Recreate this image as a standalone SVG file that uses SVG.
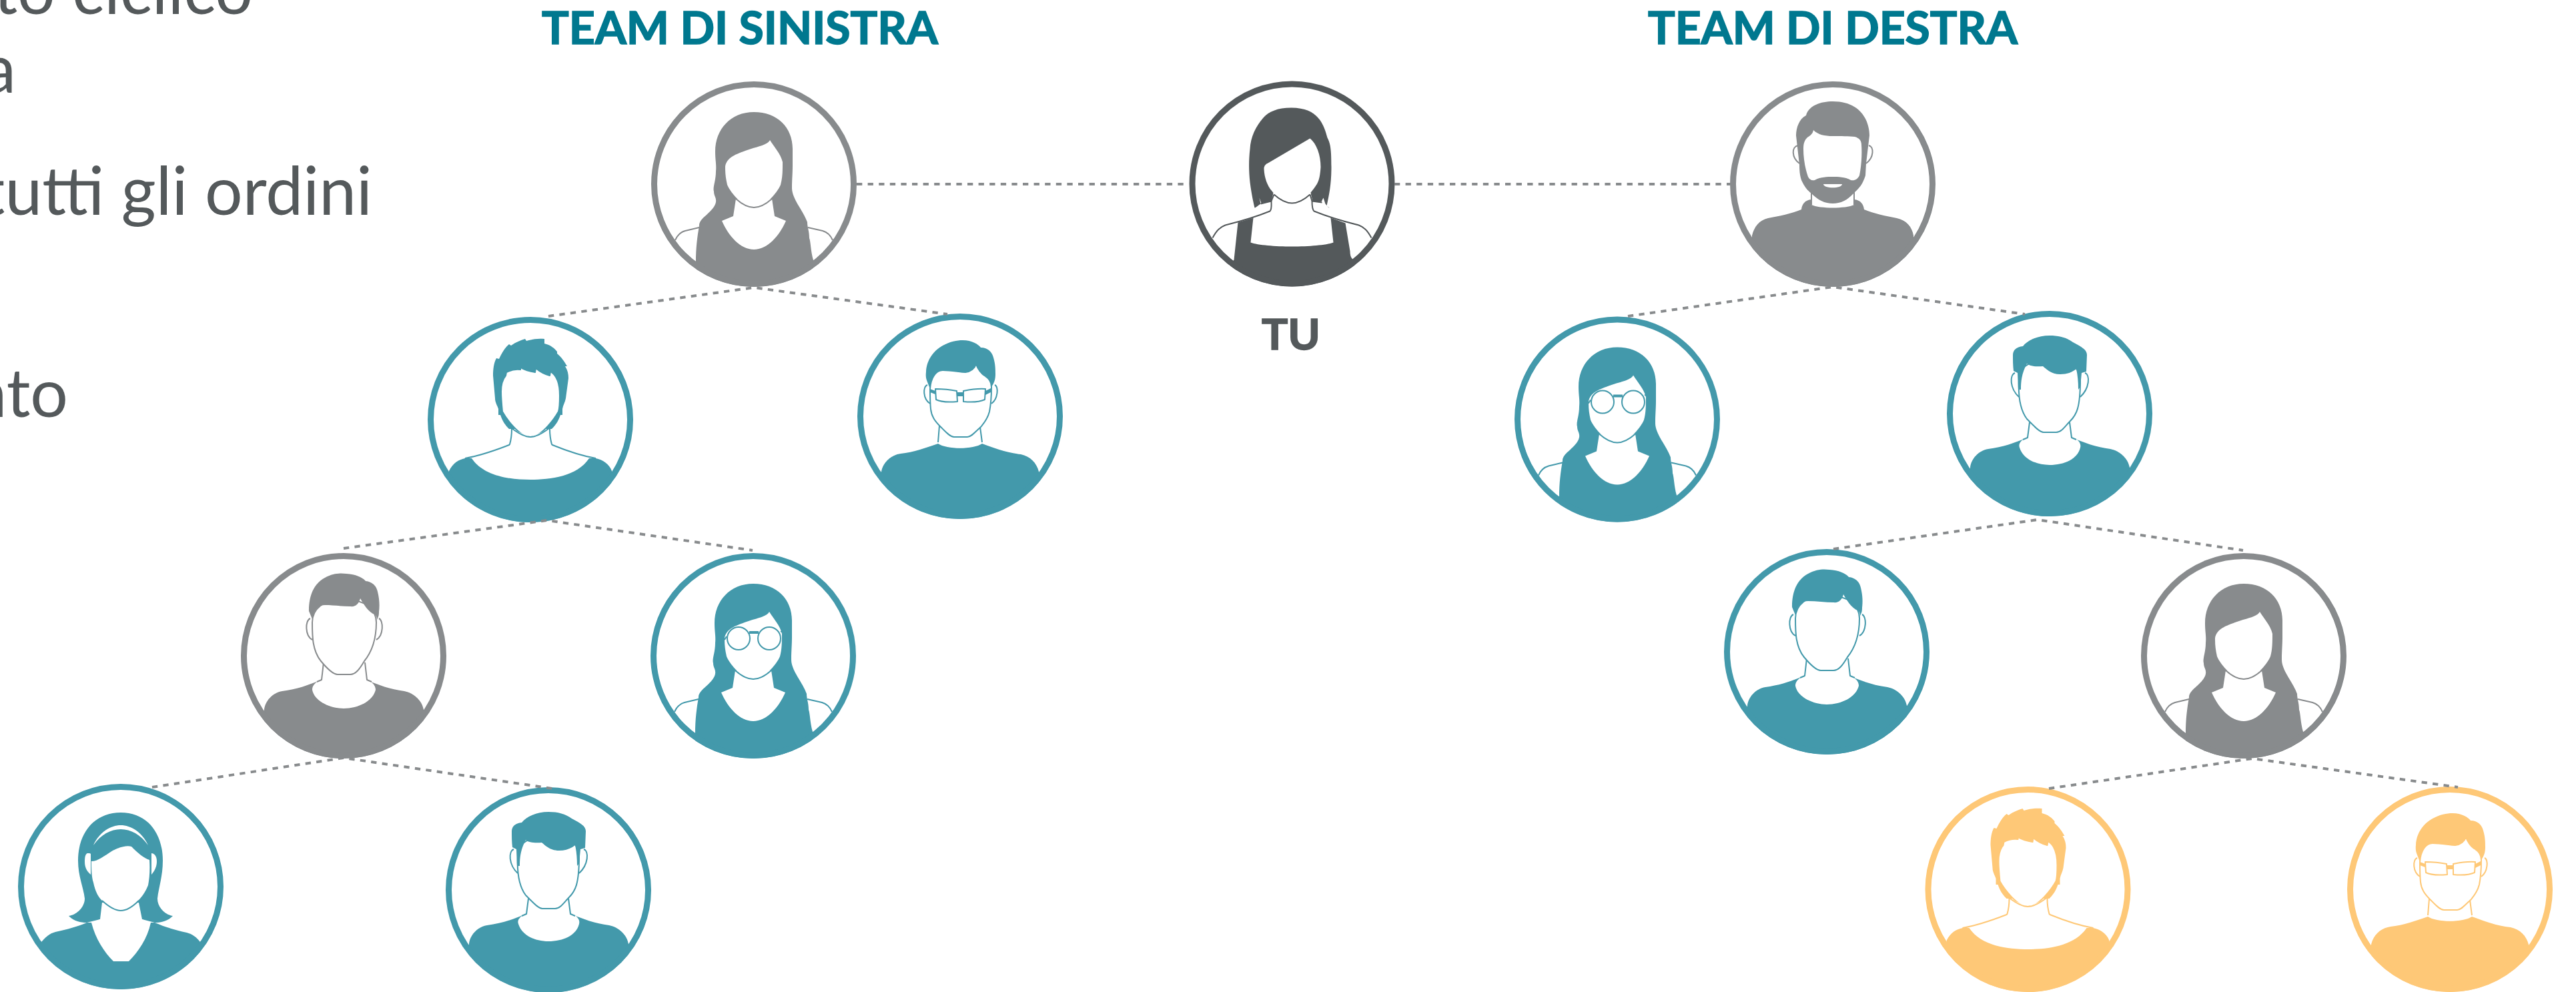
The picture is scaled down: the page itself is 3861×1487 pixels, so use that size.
<svg xmlns="http://www.w3.org/2000/svg" xmlns:xlink="http://www.w3.org/1999/xlink" width="3861" height="1487" viewBox="0 0 3861 1487">
<style>
.bg{fill:#fff}
.ring{fill:none;stroke:currentColor;stroke-width:9}
.f{fill:currentColor}
.w{fill:#fff}
.l{fill:none;stroke:currentColor;stroke-width:2;stroke-linejoin:round}
.wl{fill:#fff;stroke:currentColor;stroke-width:2;stroke-linejoin:round}
.teal{color:#4399ab}.gray{color:#888b8d}.dark{color:#54595b}.orange{color:#fec877}
.dash{fill:none;stroke:#888b8d;stroke-width:4;stroke-dasharray:8.3 8.3}
.h{font-family:Lato,"Liberation Sans",sans-serif;font-weight:700;font-size:66px;fill:#00788f;stroke:#00788f;stroke-width:1.6}
.t{font-family:Lato,"Liberation Sans",sans-serif;font-weight:700;font-size:64px;fill:#54595b;stroke:#54595b;stroke-width:1.6}
.b{font-family:Lato,"Liberation Sans",sans-serif;font-weight:400;font-size:100px;fill:#54595b}
</style>
<defs>
<clipPath id="c"><circle r="154"/></clipPath>

<g id="woman-long">
<g clip-path="url(#c)">
<path class="f" d="M0,-108C-35,-108 -58,-82 -58,-49C-58,-35 -56,-30 -57,-19C-57,-5 -62,5 -60,11C-60,18 -56,20 -57,27C-60,42 -82,50 -82,62C-85,80 -87,95 -87,116L-87,170L89,170L89,114C85,100 85,85 83,81C83,70 80,65 80,57C74,40 57,22 57,6C57,-8 58,-15 58,-29L58,-53C58,-85 35,-108 0,-108Z"/>
</g>
<path class="w" d="M-27,22L-31,48L-48,55C-38,78 -20,98 0,98C20,98 38,78 48,55L31,48L27,22Z"/>
<path class="w" d="M-43,-24C-43,-38 -30,-44 -13,-50C3,-56 20,-58 24,-66C30,-56 40,-46 43,-33C43,-20 43,-10 40,1C34,15 15,35 0,35C-15,35 -34,15 -40,1C-42,-8 -43,-15 -43,-24Z"/>
<path class="l" d="M-27,22C-18,30 -8,35 0,35C8,35 18,30 27,22"/>
<path class="l" d="M-82,65L-103,70C-110,72 -115,77 -118,84"/>
<path class="l" d="M81,65L103,70C110,72 115,77 118,84"/>
</g>

<g id="round-glasses">
<circle class="wl" cx="-22" cy="-26" r="17"/>
<circle class="wl" cx="24" cy="-26" r="17"/>
<path class="f" d="M-6,-37H8V-33H-6Z"/>
<path class="l" d="M-40,-29L-43,-24M41,-36L44,-37"/>
</g>

<g id="man-messy">
<g clip-path="url(#c)">
<path class="f" d="M-51,-92L-47,-91C-43,-100 -38,-108 -32,-113L-29,-111C-22,-116 -15,-119 -8,-121L-6,-118C5,-121 12,-122 21,-121L21,-114C30,-112 36,-107 40,-102L40,-99C47,-93 51,-87 55,-80L52,-80C56,-74 57,-68 57,-62L53,-32C52,-26 49,-22 48,-16V-7H45C42,2 38,8 32,14L-32,14C-38,8 -42,2 -45,-7H-48V-16C-50,-22 -53,-26 -53,-32L-56,-66C-56,-75 -55,-85 -51,-92Z"/>
</g>
<path class="wl" d="M-36,-71C-30,-74 -22,-76 -15,-75V-78C-8,-74 0,-72 7,-71L8,-77C14,-72 21,-68 29,-66L30,-72C40,-66 44,-52 44,-36C44,-25 44,-18 42,-12C37,-3 17,26 0,26C-17,26 -37,-3 -42,-12C-43,-22 -44,-32 -44,-42C-44,-52 -42,-60 -37,-66Z"/>
<path class="w" d="M-28,14L-31,37L-90,60L90,60L32,37L29,14L0,26Z"/>
<path class="l" d="M-28,14C-28,22 -29,30 -31,37L-32,38C-55,47 -75,54 -98,58"/>
<path class="l" d="M29,14C29,22 30,30 32,37L33,38C55,47 75,54 98,58"/>
<path class="l" d="M-28,13C-16,22 -8,26 0,26C8,26 16,22 28,13"/>
<g clip-path="url(#c)">
<path class="f" d="M-122,77C-116,65 -108,60 -98,58L-88,58C-70,85 -30,90 0,90C30,90 70,85 88,58L98,58C108,60 118,66 122,77L122,170H-122Z"/>
</g>
</g>

<g id="man-glasses">
<g clip-path="url(#c)">
<path class="f" d="M-118,83C-115,68 -103,58 -89,56C-70,54 -50,47 -33,41C-20,50 20,50 33,41C50,47 70,55 91,57C105,60 115,70 118,83L118,170H-118Z"/>
</g>
<path class="wl" d="M-49,-47C-56,-45 -56,-26 -45,-19"/>
<path class="wl" d="M52,-47C58,-45 57,-26 47,-19"/>
<path class="w" d="M-31,10L-33,39C-20,50 20,50 33,39L30,10Z"/>
<path class="l" d="M-31,14L-33,39M30,16L33,39"/>
<path class="wl" d="M-45,-41C-44,-58 -36,-69 -26,-69C-12,-69 0,-66 8,-66C16,-67 22,-72 24,-78C27,-70 31,-64 38,-60C44,-56 47,-50 47,-44C47,-30 46,-17 44,-7C41,5 35,11 31,16C22,24 17,31 11,31H-9C-15,31 -22,23 -29,16C-38,7 -43,0 -44,-11C-45,-20 -45,-30 -45,-41Z"/>
<path class="f" d="M-45,-41L-50,-54C-52,-60 -51,-65 -51,-67C-50,-85 -39,-99 -26,-106C-15,-112 -5,-114 4,-114C18,-114 27,-108 31,-103C42,-103 48,-96 50,-88C53,-78 53,-70 53,-63C53,-55 51,-50 47,-44C47,-50 44,-56 38,-60C31,-64 27,-70 24,-78C22,-72 16,-67 8,-66C0,-66 -12,-69 -26,-69C-36,-69 -44,-58 -45,-41Z"/>
<path class="f" d="M-45,-41L-37,-38V-33L-45,-36ZM38,-38L46,-42V-36L38,-32ZM-4,-36H5V-30H-4Z"/>
<path class="wl" d="M-37,-41C-26,-41 -15,-40 -5,-38L-4,-22C-15,-21 -28,-21 -36,-25Z"/>
<path class="wl" d="M5,-38C15,-40 27,-42 38,-41L37,-25C28,-21 15,-21 5,-22Z"/>
</g>

<g id="man-fringe">
<g clip-path="url(#c)">
<path class="f" d="M-119,81C-118,68 -106,55 -92,53C-70,50 -52,44 -34,36L34,36C52,44 70,50 91,53C106,56 118,68 120,81L120,170H-119Z"/>
</g>
<path class="w" d="M-30,10L-34,36C-44,40 -47,46 -45,51C-40,68 -20,77 0,77C22,77 42,68 46,51C48,44 42,38 34,36L30,10Z"/>
<path class="l" d="M-30,13L-33,36L-40,39M30,13L33,36L40,39"/>
<path class="wl" d="M-52,-61C-60,-58 -60,-38 -46,-25"/>
<path class="wl" d="M53,-61C61,-58 60,-38 46,-25"/>
<path class="wl" d="M-46,-50C-47,-30 -46,-8 -34,8C-24,18 -15,28 -9,28H10C18,28 24,18 31,11C40,2 46,-8 46,-50C46,-70 30,-80 0,-80C-30,-80 -46,-70 -46,-50Z"/>
<path class="f" d="M0,-117C-18,-117 -33,-110 -40,-101C-50,-100 -55,-95 -55,-88C-55,-80 -55,-72 -54,-64L-48,-61L-47,-36L-43,-36C-43,-48 -42,-60 -34,-75C-30,-71 -20,-70 -10,-71C-5,-67 2,-59 16,-59C26,-59 34,-62 40,-67C42,-58 43,-48 43,-36L46,-40L48,-61L55,-63L56,-88C56,-96 48,-100 35,-107C25,-114 15,-117 0,-117Z"/>
</g>

<g id="man-swept">
<g clip-path="url(#c)">
<path class="f" d="M-119,81C-118,68 -106,55 -92,53C-70,50 -52,44 -34,36L34,36C52,44 70,50 91,53C106,56 118,68 120,81L120,170H-119Z"/>
</g>
<path class="w" d="M-30,10L-34,36C-44,40 -47,46 -47,51C-44,68 -20,79 0,79C22,79 44,68 48,51C48,44 42,38 34,36L30,10Z"/>
<path class="l" d="M-30,10L-33,36L-40,39M32,10L35,36L42,39"/>
<path class="wl" d="M-50,-56C-58,-53 -58,-30 -47,-24"/>
<path class="wl" d="M53,-56C60,-53 60,-30 49,-24"/>
<path class="wl" d="M-47,-50C-47,-30 -47,-8 -34,8C-24,20 -15,28 -9,28H10C18,28 24,20 31,8C44,-8 49,-30 49,-50C49,-70 30,-85 0,-85C-30,-85 -47,-70 -47,-50Z"/>
<path class="f" d="M-47,-55L-52,-67C-52,-90 -45,-108 -28,-117C-15,-124 -5,-124 4,-123C18,-122 28,-118 33,-112C43,-111 49,-105 51,-96C54,-84 54,-74 53,-66C53,-60 52,-58 50,-54C50,-60 47,-62 46,-62C38,-66 33,-72 25,-86C23,-78 18,-73 10,-74C-2,-74 -15,-76 -28,-76C-38,-76 -45,-68 -47,-55Z"/>
</g>

<g id="woman-band">
<g clip-path="url(#c)">
<path class="f" d="M0,-111C-40,-111 -64,-80 -64,-39C-64,-15 -56,0 -54,18C-54,30 -65,42 -78,44C-70,52 -60,54 -51,54L-31,49L32,49L51,54C60,54 70,52 78,44C65,42 55,30 55,18C57,0 63,-15 63,-39C63,-80 40,-111 0,-111Z"/>
<path class="f" d="M-119,83C-112,75 -106,70 -98,68C-80,64 -65,60 -51,54L51,54C65,60 80,65 99,69C107,71 114,76 119,83L119,170H-119Z"/>
</g>
<path class="w" d="M-28,24L-31,49L-44,54C-38,78 -25,98 -11,112H12C26,98 40,78 45,54L32,49L27,24Z"/>
<path class="w" d="M-44,-38C-34,-38 -25,-46 -12,-54C0,-60 10,-62 16,-60C25,-51 34,-43 43,-40C44,-25 43,-12 41,-2C37,8 32,15 26,21C17,30 8,36 0,36C-8,36 -17,30 -28,21C-34,15 -38,8 -41,-6C-44,-15 -44,-28 -44,-38Z"/>
<path class="l" d="M-28,21C-17,31 -8,36 0,36C8,36 17,31 27,21"/>
<path class="w" d="M-41,-62C-32,-82 -15,-92 0,-92C15,-92 32,-82 41,-62C30,-78 15,-86 0,-86C-15,-86 -30,-78 -41,-62Z"/>
<path class="w" d="M-50,-50C-46,-50 -46,-50 -45,-49L-45,-18C-52,-24 -54,-30 -54,-38C-54,-44 -53,-49 -50,-50Z"/>
<path class="w" d="M46,-50C50,-50 54,-46 54,-38C54,-30 51,-24 46,-18Z"/>
</g>

<g id="woman-tu">
<path class="f" d="M-1,-114C-22,-114 -35,-108 -43,-99C-55,-85 -62,-70 -63,-52C-65,-35 -65,-15 -62,5C-60,18 -58,28 -56,36L56,36L52,33C56,15 59,0 59,-25C59,-50 58,-60 53,-69C48,-88 40,-114 -1,-114Z"/>
<path class="w" d="M-58,38L-47,30L-49,21L-46,29L-31,26L-27,10H27L31,26L44,27L47,21L50,30L56,37L58,51L-58,51Z"/>
<path class="w" d="M-31,41L-58,51L-100,62L-119,81L-90,112L90,112L119,81L100,62L58,51L33,41L27,10H-27Z"/>
<path class="l" d="M-119,81C-113,70 -108,65 -100,62C-80,57 -55,50 -33,41C-30,38 -31,32 -31,26L-47,30"/>
<path class="l" d="M119,81C113,70 108,65 100,62C80,57 55,50 33,41C30,38 30,32 30,26L45,28"/>
<path class="l" d="M-27,16L-31,26M27,16L30,26"/>
<g clip-path="url(#c)">
<path class="f" d="M-81,58L-58,51L-62,88C-40,96 40,96 62,88L58,51L80,59L87,101C87,106 88,110 90,112L120,170H-120L-87,114Z"/>
</g>
<path class="w" d="M-42,-24C-41,-28 -39,-30 -36,-31L27,-68C37,-60 43,-43 43,-25C42,-10 40,-4 37,1C28,15 15,29 0,29C-12,29 -25,18 -30,11C-38,2 -42,-12 -42,-24Z"/>
<path class="l" d="M-27,16C-17,25 -8,29 0,29C8,29 17,25 27,16"/>
</g>

<g id="man-beard">
<g clip-path="url(#c)">
<path class="f" d="M-121,77C-118,64 -110,54 -97,51C-80,48 -62,44 -47,38C-46,30 -42,24 -32,23L-32,31C-20,37 20,37 32,31V23C42,24 46,30 47,38C62,44 80,48 96,51C110,54 119,64 121,77L121,170H-121Z"/>
</g>
<path class="l" d="M-32,11L-32,31M32,11L32,31"/>
<path class="wl" d="M-52,-58C-62,-56 -62,-40 -50,-31"/>
<path class="wl" d="M54,-58C62,-56 62,-40 50,-31"/>
<path class="f" d="M0,-124C-18,-124 -36,-118 -40,-103C-50,-98 -55,-85 -55,-73L-50,-29C-50,-18 -49,-12 -47,-6C-42,5 -38,9 -32,14C-22,24 -12,29 0,29C12,29 22,24 31,14C40,6 45,0 49,-13L50,-31L55,-73C55,-90 46,-124 0,-124Z"/>
<path class="w" d="M-44,-53C-44,-62 -42,-66 -38,-70C-33,-73 -30,-76 -29,-81C-22,-74 -12,-72 0,-72C12,-72 25,-72 33,-71C40,-69 43,-65 43,-59C44,-45 43,-28 40,-13C37,-7 33,-5 27,-6C18,-11 8,-11 0,-11C-8,-11 -18,-11 -27,-6C-32,-5 -35,-7 -37,-11C-42,-25 -44,-40 -44,-53Z"/>
<path class="w" d="M-14,0H14C14,7 -14,7 -14,0Z"/>
</g>
</defs>

<rect class="bg" width="3861" height="1487"/>

<g id="left-text">
<text class="b" x="379" y="21" text-anchor="end">to ciclico</text>
<text class="b" x="24" y="139" text-anchor="end">a</text>
<text class="b" x="558" y="322" text-anchor="end">tutti gli ordini</text>
<text class="b" x="102" y="625" text-anchor="end">nto</text>
</g>
<g id="titles">
<text class="h" x="812" y="66" textLength="594" lengthAdjust="spacingAndGlyphs">TEAM DI SINISTRA</text>
<text class="h" x="2470" y="66" textLength="554" lengthAdjust="spacingAndGlyphs">TEAM DI DESTRA</text>
</g>

<g id="node-tu" class="dark" transform="translate(1936.5,275.5)"><use xlink:href="#woman-tu"/><circle class="ring" r="149.5"/></g>
<text id="label-tu" class="t" x="1891" y="524" textLength="88" lengthAdjust="spacingAndGlyphs">TU</text>
<g id="node-l1" class="gray" transform="translate(1130,276)"><use xlink:href="#woman-long"/><circle class="ring" r="149.5"/></g>
<g id="node-r1" class="gray" transform="translate(2747,276)"><use xlink:href="#man-beard"/><circle class="ring" r="149.5"/></g>
<g id="node-l2a" class="teal" transform="translate(795,629)"><use xlink:href="#man-messy"/><circle class="ring" r="149.5"/></g>
<g id="node-l2b" class="teal" transform="translate(1439,624)"><use xlink:href="#man-glasses"/><circle class="ring" r="149.5"/></g>
<g id="node-l3a" class="gray" transform="translate(515,983)"><use xlink:href="#man-swept"/><circle class="ring" r="149.5"/></g>
<g id="node-l3b" class="teal" transform="translate(1129,983)"><use xlink:href="#woman-long"/><use xlink:href="#round-glasses"/><circle class="ring" r="149.5"/></g>
<g id="node-l4a" class="teal" transform="translate(181,1329)"><use xlink:href="#woman-band"/><circle class="ring" r="149.5"/></g>
<g id="node-l4b" class="teal" transform="translate(822,1334)"><use xlink:href="#man-fringe"/><circle class="ring" r="149.5"/></g>
<g id="node-r2a" class="teal" transform="translate(2424,628.5)"><use xlink:href="#woman-long"/><use xlink:href="#round-glasses"/><circle class="ring" r="149.5"/></g>
<g id="node-r2b" class="teal" transform="translate(3072,620)"><use xlink:href="#man-fringe"/><circle class="ring" r="149.5"/></g>
<g id="node-r3a" class="teal" transform="translate(2738,977)"><use xlink:href="#man-swept"/><circle class="ring" r="149.5"/></g>
<g id="node-r3b" class="gray" transform="translate(3363,983)"><use xlink:href="#woman-long"/><circle class="ring" r="149.5"/></g>
<g id="node-r4a" class="orange" transform="translate(3039.5,1333)"><use xlink:href="#man-messy"/><circle class="ring" r="149.5"/></g>
<g id="node-r4b" class="orange" transform="translate(3672,1333)"><use xlink:href="#man-glasses"/><circle class="ring" r="149.5"/></g>

<g id="connectors">
<path class="dash" d="M1284,276H1782"/>
<path class="dash" d="M2090,276H2593"/>
<path class="dash" d="M822,474L1130,431L1420,471"/>
<path class="dash" d="M2440,474L2747,430L3035,471"/>
<path class="dash" d="M515,822L820,780L1128,825"/>
<path class="dash" d="M2748,823L3054,779L3362,825"/>
<path class="dash" d="M228,1180L515,1136L828,1182"/>
<path class="dash" d="M3071,1182L3376,1137L3684,1180"/>
</g>
</svg>
